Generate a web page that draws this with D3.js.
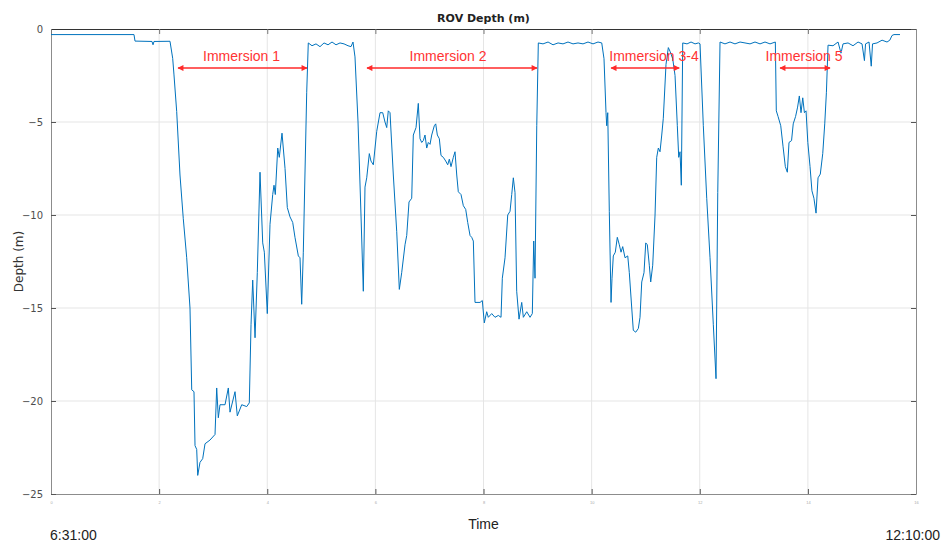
<!DOCTYPE html>
<html>
<head>
<meta charset="utf-8">
<script src="https://cdn.jsdelivr.net/npm/d3@7"></script>
<style>
    body { margin: 0; background: #fff; }
    svg { display: block; }
    .grid line { stroke: #e5e5e5; }
</style>
</head>
<body>
<div id="graph-container"></div>
<script>
// time in axis units (0..16), depth in metres
var timeVals = [0, 1.535, 1.554, 1.868, 1.887, 1.905, 2.201, 2.251, 2.275, 2.325, 2.386, 2.447, 2.510, 2.571, 2.603,
    2.645, 2.664, 2.695, 2.714, 2.756, 2.806, 2.849, 2.941, 3.034, 3.065, 3.095, 3.126, 3.219, 3.280, 3.311,
    3.404, 3.446, 3.528, 3.620, 3.668, 3.700, 3.731, 3.774, 3.816, 3.866, 3.916, 3.946, 4.001, 4.051, 4.101,
    4.125, 4.149, 4.194, 4.223, 4.273, 4.329, 4.371, 4.421, 4.471, 4.513, 4.575, 4.606, 4.637, 4.667, 4.730,
    4.759, 4.828, 4.902, 4.976, 5.050, 5.124, 5.198, 5.272, 5.346, 5.420, 5.494, 5.549, 5.586, 5.623, 5.679,
    5.734, 5.777, 5.808, 5.840, 5.888, 5.919, 5.962, 6.025, 6.086, 6.136, 6.178, 6.210, 6.239, 6.271, 6.332,
    6.395, 6.443, 6.487, 6.548, 6.580, 6.622, 6.672, 6.702, 6.752, 6.794, 6.826, 6.857, 6.887, 6.918, 6.950,
    6.979, 7.011, 7.042, 7.090, 7.116, 7.146, 7.183, 7.214, 7.257, 7.301, 7.338, 7.368, 7.399, 7.442, 7.473,
    7.505, 7.534, 7.584, 7.627, 7.671, 7.708, 7.751, 7.782,
    7.812, 7.843, 7.936, 7.978, 8.015, 8.059, 8.089, 8.152, 8.213, 8.274, 8.324, 8.348, 8.398, 8.448, 8.491,
    8.522, 8.552, 8.583, 8.614, 8.657, 8.707, 8.737, 8.800, 8.861, 8.903, 8.929, 8.953, 8.985, 9.014, 9.101,
    9.194, 9.286, 9.379, 9.471, 9.563, 9.656, 9.748, 9.841, 9.933, 10.026, 10.118, 10.187, 10.229, 10.266, 10.279,
    10.298, 10.327, 10.359, 10.377, 10.401, 10.438, 10.475, 10.512, 10.544, 10.575, 10.618, 10.668, 10.697, 10.742, 10.771,
    10.816, 10.864, 10.895, 10.927, 10.969, 11.001, 11.030, 11.067, 11.093, 11.130, 11.173, 11.204, 11.234, 11.265, 11.297,
    11.326, 11.376, 11.419, 11.450, 11.500, 11.543, 11.585, 11.611, 11.635, 11.659, 11.685, 11.765, 11.839, 11.913, 11.974,
    12.005, 12.066, 12.129, 12.190, 12.251, 12.301, 12.333, 12.375, 12.467, 12.560, 12.652, 12.745, 12.837, 12.930, 13.022,
    13.115, 13.207, 13.300, 13.398, 13.416, 13.448, 13.498, 13.540, 13.583, 13.620, 13.651, 13.698, 13.729, 13.773, 13.810,
    13.842, 13.873, 13.905, 13.936, 13.966, 13.999, 14.040, 14.075, 14.112, 14.151, 14.188, 14.230, 14.275, 14.312, 14.343,
    14.373, 14.465, 14.558, 14.613, 14.650, 14.743, 14.835, 14.928, 15.002, 15.046, 15.067, 15.131, 15.172, 15.196, 15.279,
    15.372, 15.464, 15.516, 15.556, 15.593, 15.704];

var depthVals = [-0.30, -0.30, -0.65, -0.67, -0.85, -0.67, -0.66, -1.58, -2.47, -4.44, -7.85, -10.2, -12.3, -15.0, -19.4,
    -19.5, -22.4, -22.6, -24.0, -23.3, -23.1, -22.3, -22.1, -21.8, -19.3, -20.9, -20.2, -20.2, -19.3, -20.6,
    -19.5, -20.8, -20.2, -20.3, -20.1, -15.9, -13.5, -16.6, -13.1, -7.7, -11.5, -12.0, -15.3, -10.5, -8.9,
    -8.4, -8.9, -6.4, -6.9, -5.6, -7.5, -9.6, -10.1, -10.4, -11.2, -12.2, -12.3, -14.8, -12.0, -3.4,
    -0.75, -0.9, -0.8, -0.95, -0.75, -0.85, -0.7, -0.85, -0.75, -0.8, -0.9, -0.95, -0.7, -1.5, -5.0,
    -10.0, -14.1, -8.5, -8.0, -6.7, -7.1, -7.3, -5.5, -4.5, -4.5, -5.0, -5.3, -4.4, -4.5, -7.85,
    -10.9, -14.0, -13.1, -11.6, -11.1, -9.3, -9.1, -5.7, -5.3, -4.0, -5.9, -6.1, -6.0, -5.7, -6.4,
    -6.1, -6.2, -5.7, -5.2, -5.1, -5.7, -5.9, -6.8, -6.9, -7.1, -7.3, -7.0, -7.4, -6.9, -6.6,
    -7.85, -8.75, -8.9, -9.5, -9.7, -10.4, -11.1, -11.2,
    -11.4, -14.7, -14.7, -14.6, -15.8, -15.2, -15.5, -15.3, -15.5, -15.4, -15.5, -13.4, -12.3, -10.0, -9.8,
    -8.9, -8.0, -8.8, -14.1, -15.6, -14.7, -15.5, -15.2, -15.5, -15.3, -11.4, -13.4, -5.2, -0.75, -0.8,
    -0.7, -0.85, -0.75, -0.8, -0.7, -0.8, -0.75, -0.8, -0.7, -0.8, -0.7, -0.75, -1.6, -4.5, -5.2,
    -4.5, -9.8, -14.7, -13.4, -12.2, -12.0, -11.2, -11.6, -12.0, -11.7, -12.3, -12.2, -13.1, -15.0, -16.2,
    -16.3, -16.1, -15.5, -13.6, -13.1, -11.5, -11.6, -12.7, -13.6, -12.7, -10.0, -6.9, -6.4, -6.6, -5.7,
    -4.8, -1.9, -1.0, -1.2, -1.6, -2.5, -5.2, -6.9, -6.6, -8.4, -0.75, -0.8, -0.7, -0.8, -0.75,
    -0.8, -5.2, -9.1, -12.3, -15.9, -18.8, -8.8, -0.7, -0.8, -0.7, -0.8, -0.7, -0.75, -0.8, -0.7,
    -0.8, -0.7, -0.8, -0.7, -4.4, -4.7, -5.2, -6.3, -7.4, -7.7, -6.1, -6.0, -5.1, -4.7, -4.2,
    -3.6, -4.5, -3.7, -4.5, -4.4, -6.1, -7.4, -8.7, -9.1, -9.9, -8.0, -7.8, -6.7, -5.1, -3.4,
    -0.87, -0.9, -0.7, -1.3, -0.8, -0.75, -0.9, -0.7, -0.8, -1.7, -0.8, -0.7, -2.0, -0.8, -0.75,
    -0.6, -0.7, -0.6, -0.35, -0.3, -0.3];

var xTicks = [0, 2, 4, 6, 8, 10, 12, 14, 16];
var yTicks = [0, -5, -10, -15, -20, -25];

// immersion annotations: arrow start/end, label position
var immLabels = ["Immersion 1", "Immersion 2", "Immersion 3-4", "Immersion 5"];
var immStart = [2.35, 5.845, 10.36, 13.485];
var immEnd = [4.735, 8.99, 11.62, 14.41];
var immText = [3.524, 7.344, 11.154, 13.929];
var arrowDepth = -2.1,
    textDepth = -1.72;

var width = 944,
    height = 545,
    margin = {top: 29, right: 28, bottom: 51, left: 51};

var svg = d3.select("#graph-container").append("svg")
    .attr("width", width)
    .attr("height", height);

var x = d3.scaleLinear().domain([0, 16]).range([margin.left, width - margin.right]);
var y = d3.scaleLinear().domain([-25, 0]).range([height - margin.bottom, margin.top]);

// grid
svg.append("g").attr("class", "grid")
    .selectAll("line").data(xTicks.slice(1, -1)).enter().append("line")
    .attr("x1", function(d) { return x(d); }).attr("x2", function(d) { return x(d); })
    .attr("y1", y(0)).attr("y2", y(-25));
svg.append("g").attr("class", "grid")
    .selectAll("line").data(yTicks.slice(1, -1)).enter().append("line")
    .attr("x1", x(0)).attr("x2", x(16))
    .attr("y1", function(d) { return y(d); }).attr("y2", function(d) { return y(d); });

// axes (ticks pointing inward, matlab style)
var axisColor = "#8c8c8c";
var gx = svg.append("g")
    .attr("transform", "translate(0," + y(-25) + ")")
    .call(d3.axisBottom(x).tickValues(xTicks).tickSizeInner(-5).tickSizeOuter(0).tickPadding(7));
gx.selectAll("text").style("font-size", "4px").style("fill", "#aaa");

var gy = svg.append("g")
    .attr("transform", "translate(" + x(0) + ",0)")
    .call(d3.axisLeft(y).tickValues(yTicks).tickSizeInner(-5).tickSizeOuter(0).tickPadding(8));
gy.selectAll("text").style("font-family", "DejaVu Sans").style("font-size", "10px").style("fill", "#4d4d4d");

var gt = svg.append("g")
    .attr("transform", "translate(0," + y(0) + ")")
    .call(d3.axisTop(x).tickValues(xTicks).tickSizeInner(-5).tickSizeOuter(0).tickFormat(""));
var gr = svg.append("g")
    .attr("transform", "translate(" + x(16) + ",0)")
    .call(d3.axisRight(y).tickValues(yTicks).tickSizeInner(-5).tickSizeOuter(0).tickFormat(""));

[gx, gy, gr].forEach(function(g) {
    g.selectAll("path").attr("stroke", axisColor);
    g.selectAll("line").attr("stroke", "#555");
});
gt.selectAll("path").attr("stroke", "#333");
gt.selectAll("line").attr("stroke", "#777");

// depth line
var line = d3.line()
    .x(function(d) { return x(d[0]); })
    .y(function(d) { return y(d[1]); });

svg.append("path")
    .datum(d3.zip(timeVals, depthVals))
    .attr("fill", "none")
    .attr("stroke", "#0072bd")
    .attr("stroke-width", 1)
    .attr("stroke-linejoin", "round")
    .attr("d", line);

// red double arrows
var defs = svg.append("defs");
defs.append("marker")
    .attr("id", "arrowhead")
    .attr("viewBox", "0 0 10 10")
    .attr("refX", 9).attr("refY", 5)
    .attr("markerWidth", 7).attr("markerHeight", 6)
    .attr("markerUnits", "userSpaceOnUse")
    .attr("orient", "auto-start-reverse")
    .append("path")
    .attr("d", "M0,0 L10,5 L0,10 z")
    .attr("fill", "#ff2a2a");

immLabels.forEach(function(lbl, i) {
    svg.append("line")
        .attr("x1", x(immStart[i])).attr("x2", x(immEnd[i]))
        .attr("y1", y(arrowDepth)).attr("y2", y(arrowDepth))
        .attr("stroke", "#ff2a2a")
        .attr("stroke-width", 1.5)
        .attr("marker-start", "url(#arrowhead)")
        .attr("marker-end", "url(#arrowhead)");
    svg.append("text")
        .attr("x", x(immText[i]))
        .attr("y", y(textDepth))
        .attr("text-anchor", "middle")
        .style("font-family", "Liberation Sans, Arial, sans-serif")
        .style("font-size", "14px")
        .style("fill", "#ff3333")
        .text(lbl);
});

// title and labels
svg.append("text")
    .attr("x", (x(0) + x(16)) / 2).attr("y", 22)
    .attr("text-anchor", "middle")
    .style("font-family", "DejaVu Sans").style("font-weight", "bold").style("font-size", "11px")
    .style("fill", "#222")
    .text("ROV Depth (m)");

svg.append("text")
    .attr("transform", "translate(23," + ((y(0) + y(-25)) / 2) + ") rotate(-90)")
    .attr("text-anchor", "middle")
    .style("font-family", "DejaVu Sans").style("font-size", "12px")
    .style("fill", "#333")
    .text("Depth (m)");

svg.append("text")
    .attr("x", (x(0) + x(16)) / 2).attr("y", 529)
    .attr("text-anchor", "middle")
    .style("font-family", "Liberation Sans, Arial, sans-serif").style("font-size", "14px")
    .style("fill", "#222")
    .text("Time");

svg.append("text")
    .attr("x", 50).attr("y", 540)
    .style("font-family", "Liberation Sans, Arial, sans-serif").style("font-size", "14px")
    .style("fill", "#222")
    .text("6:31:00");

svg.append("text")
    .attr("x", 940).attr("y", 540)
    .attr("text-anchor", "end")
    .style("font-family", "Liberation Sans, Arial, sans-serif").style("font-size", "14px")
    .style("fill", "#222")
    .text("12:10:00");
</script>
</body>
</html>
